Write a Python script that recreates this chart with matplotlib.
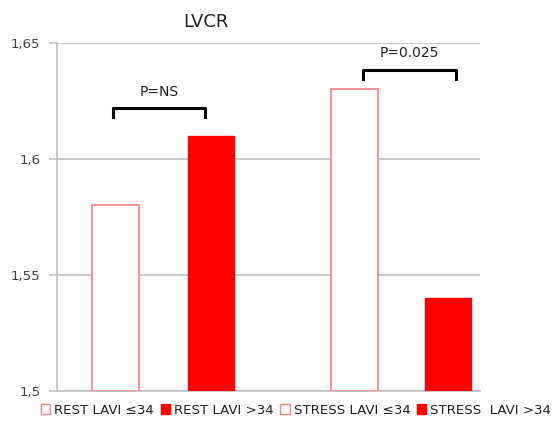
import matplotlib
matplotlib.use("Agg")
import matplotlib.pyplot as plt
from matplotlib.patches import Patch
from matplotlib.font_manager import FontProperties

# Data
series = ["REST LAVI \u226434", "REST LAVI >34", "STRESS LAVI \u226434", "STRESS  LAVI >34"]
values = [1.58, 1.61, 1.63, 1.54]
positions = [1.18, 3.08, 5.94, 7.82]   # bar centres (axis units)
filled = [False, True, False, True]
yticks = [1.5, 1.55, 1.6, 1.65]
ytick_labels = ["1,5", "1,55", "1,6", "1,65"]
brackets = [(1.12, 2.96, 1.622, "P=NS"), (6.12, 7.98, 1.6385, "P=0.025")]

plt.rcParams['font.family'] = ['DejaVu Sans']

W, H = 554, 423
fig = plt.figure(figsize=(W / 100, H / 100), dpi=100)
ax = fig.add_axes([57 / W, 1 - 391 / H, (480 - 57) / W, (391 - 43) / H])

red = "#ff0000"
edge_light = "#ff7f7f"
width = 0.94
for x, v, f in zip(positions, values, filled):
    if f:
        ax.bar(x, v - 1.5, bottom=1.5, width=width, color=red, edgecolor=red, linewidth=1, zorder=3)
    else:
        ax.bar(x, v - 1.5, bottom=1.5, width=width, color="white", edgecolor=edge_light, linewidth=1.2, zorder=3)

ax.set_xlim(0, 8.46)
ax.set_ylim(1.5, 1.65)
ax.set_yticks(yticks)
ax.set_yticklabels(ytick_labels, fontsize=9.5, color="#404040")
ax.set_xticks([])
ax.yaxis.grid(True, color="#bfbfbf", linewidth=1.2, zorder=0)
for s in ["top", "right"]:
    ax.spines[s].set_visible(False)
ax.spines["left"].set_color("#bfbfbf")
ax.spines["bottom"].set_color("#bfbfbf")
ax.spines["left"].set_linewidth(1.2)
ax.spines["bottom"].set_linewidth(1.2)
ax.tick_params(axis="y", length=6, color="#bfbfbf", width=1.2, pad=6)

# brackets
dleg = 0.004
for x0, x1, y, label in brackets:
    ax.plot([x0, x0, x1, x1], [y - dleg, y, y, y - dleg], color="black", linewidth=2.2,
            solid_joinstyle="round", zorder=4, clip_on=False)
    ax.text((x0 + x1) / 2, y + 0.004, label, ha="center", va="bottom", fontsize=10, color="#222222")

fig.text(206 / W, 1 - 22 / H, "LVCR", ha="center", va="center", fontsize=13, color="#222222")

handles = [Patch(facecolor=(red if f else "white"), edgecolor=(red if f else edge_light), linewidth=1)
           for f in filled]
fig.legend(handles, series, loc="center", bbox_to_anchor=(296 / W, 1 - 410 / H), ncol=4,
           frameon=False, prop=FontProperties(family="DejaVu Sans", size=9.6),
           handlelength=0.7, handleheight=0.7, handletextpad=0.3,
           columnspacing=0.5, labelcolor="#222222")

fig.savefig("out.png", dpi=100)
